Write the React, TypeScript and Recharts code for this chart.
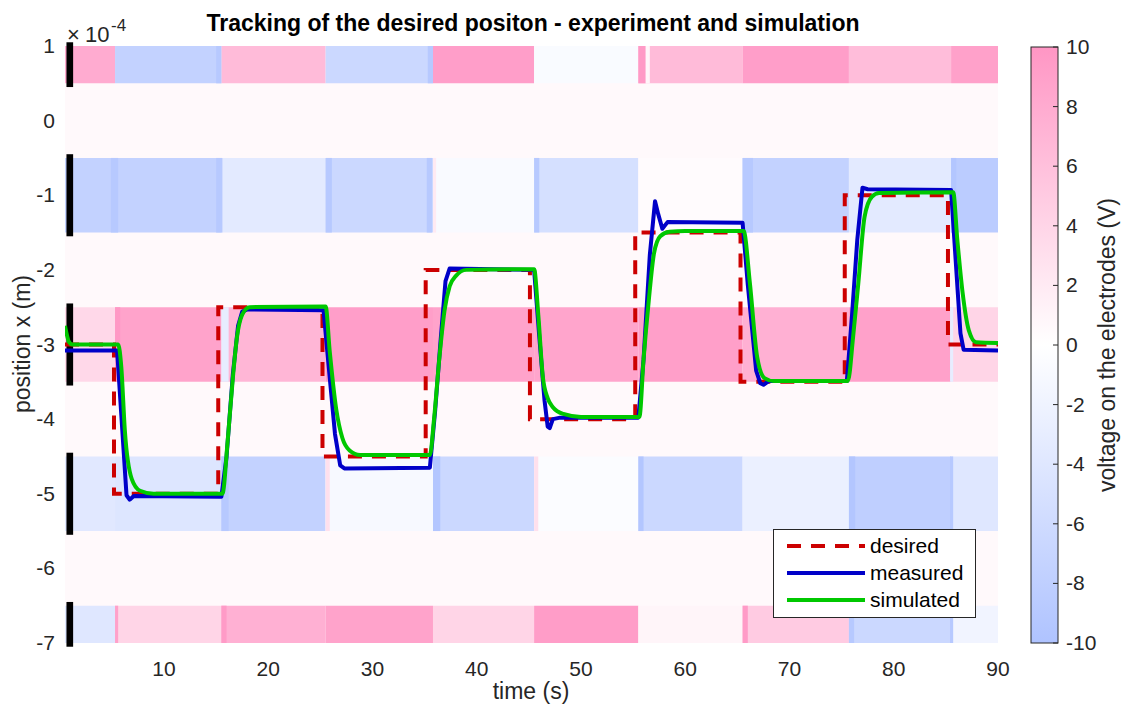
import { ComposedChart, Line, XAxis, YAxis, ReferenceArea } from "recharts"

const FONT = "'Liberation Sans', Arial, Helvetica, sans-serif"
const TEXT = "#262626"

// time edges of the voltage segments (s)
const timeEdges = [0.5, 5.3, 15.5, 25.5, 35.8, 45.5, 55.5, 65.5, 75.7, 85.5, 90]

// electrode rows (x 1e-4 m) and voltage per time segment (V)
const electrodeRows = [1, -1, -3, -5, -7]
const voltsRow1 = [8, -7.5, 6.5, -6.5, 9.2, -0.7, 6.5, 9.2, 6.3, 9]
const voltsRowM1 = [-7.5, -7.5, -3.5, -6.5, -0.8, -5.2, 0.4, -7.5, -3.5, -8.5]
const voltsRowM3 = [3.7, 8.8, 7, 9.2, 8.8, 8.6, 9.1, 7.5, 9, 4]
const voltsRowM5 = [-3.8, -4.2, -7.5, -1, -6.5, -0.5, -6.5, -2.5, -8, -4]
const voltsRowM7 = [-4, 4, 7.5, 8.8, 4, 9.3, 1, 5, -6.5, -1.8]
const rowVolts = [voltsRow1, voltsRowM1, voltsRowM3, voltsRowM5, voltsRowM7]
const gapVoltage = 0.6

// short switching spikes: [row index, t start, t end, voltage]
const spikes: [number, number, number, number][] = [
    [0, 15.0, 15.5, -9], [0, 35.3, 35.8, -9], [0, 55.5, 56.2, 9.6], [0, 56.2, 56.6, 1],
    [1, 4.9, 5.6, -9], [1, 15.0, 15.6, -9], [1, 25.5, 26.1, -9], [1, 35.2, 35.7, -9],
    [1, 35.8, 36.1, 2], [1, 45.5, 46.0, -9], [1, 65.5, 66.5, -9], [1, 85.5, 86.0, -9.5],
    [2, 5.3, 5.8, 9.8], [2, 15.5, 16.2, -3], [2, 85.4, 85.7, -3],
    [3, 15.5, 16.2, -9], [3, 25.5, 25.9, 3], [3, 35.8, 36.5, -9.5], [3, 45.5, 45.9, 3],
    [3, 55.5, 56.0, -9.5], [3, 75.7, 76.3, -9.5], [3, 85.4, 85.7, -9],
    [4, 5.3, 5.6, 9], [4, 15.5, 16.0, 9.5], [4, 65.5, 66.0, 9.5], [4, 75.7, 76.2, -9], [4, 85.4, 85.7, -9],
]

const desired = [
    { t: 0.5, v: -3 }, { t: 5.2, v: -3 }, { t: 5.2, v: -5 }, { t: 15.2, v: -5 }, { t: 15.2, v: -2.5 },
    { t: 25.2, v: -2.5 }, { t: 25.2, v: -4.5 }, { t: 35.1, v: -4.5 }, { t: 35.1, v: -2 }, { t: 45.1, v: -2 },
    { t: 45.1, v: -4 }, { t: 55.2, v: -4 }, { t: 55.2, v: -1.5 }, { t: 65.3, v: -1.5 }, { t: 65.3, v: -3.5 },
    { t: 75.3, v: -3.5 }, { t: 75.3, v: -1 }, { t: 85.2, v: -1 }, { t: 85.2, v: -3 }, { t: 90, v: -3 },
]

const measured = [
    { t: 0.5, v: -3.08 }, { t: 5.5, v: -3.08 }, { t: 6.4, v: -5.02 }, { t: 6.7, v: -5.08 }, { t: 7.1, v: -5.03 },
    { t: 15.5, v: -5.04 }, { t: 16.0, v: -4.5 }, { t: 16.6, v: -3.4 }, { t: 17.1, v: -2.75 }, { t: 17.5, v: -2.56 },
    { t: 18, v: -2.53 }, { t: 25.3, v: -2.54 }, { t: 25.6, v: -3.0 }, { t: 26.4, v: -4.2 }, { t: 26.9, v: -4.62 },
    { t: 27.3, v: -4.66 }, { t: 35.5, v: -4.65 }, { t: 36.0, v: -3.9 }, { t: 36.5, v: -3.0 }, { t: 37.0, v: -2.15 },
    { t: 37.4, v: -1.98 }, { t: 45.5, v: -2.0 }, { t: 46.0, v: -2.9 }, { t: 46.5, v: -3.75 }, { t: 46.8, v: -4.1 },
    { t: 47.0, v: -4.12 }, { t: 47.3, v: -4.0 }, { t: 48, v: -3.98 }, { t: 55.5, v: -3.98 }, { t: 56.0, v: -3.2 },
    { t: 56.6, v: -1.8 }, { t: 57.1, v: -1.08 }, { t: 57.4, v: -1.25 }, { t: 57.8, v: -1.45 }, { t: 58.3, v: -1.36 },
    { t: 65.5, v: -1.37 }, { t: 66.0, v: -2.2 }, { t: 66.8, v: -3.35 }, { t: 67.2, v: -3.52 }, { t: 67.5, v: -3.54 },
    { t: 68, v: -3.49 }, { t: 75.5, v: -3.49 }, { t: 76.0, v: -2.6 }, { t: 76.5, v: -1.6 }, { t: 77, v: -0.9 },
    { t: 77.5, v: -0.92 }, { t: 85.5, v: -0.93 }, { t: 86.0, v: -2.0 }, { t: 86.4, v: -2.85 }, { t: 86.7, v: -3.07 },
    { t: 90, v: -3.08 },
]

const simulated = [
    { t: 0.5, v: -2.75 }, { t: 0.9, v: -2.97 }, { t: 1.2, v: -3.0 }, { t: 5.6, v: -3.0 }, { t: 5.9, v: -3.3 },
    { t: 6.24, v: -4.15 }, { t: 6.9, v: -4.8 }, { t: 7.7, v: -4.96 }, { t: 9, v: -5.0 }, { t: 15.6, v: -5.0 },
    { t: 16.1, v: -4.3 }, { t: 16.6, v: -3.45 }, { t: 17.0, v: -2.9 }, { t: 17.5, v: -2.6 }, { t: 18.2, v: -2.5 },
    { t: 25.5, v: -2.49 }, { t: 25.9, v: -3.1 }, { t: 26.5, v: -3.85 }, { t: 27.1, v: -4.25 }, { t: 27.8, v: -4.42 },
    { t: 28.8, v: -4.48 }, { t: 35.5, v: -4.48 }, { t: 35.9, v: -4.0 }, { t: 36.4, v: -3.2 }, { t: 36.9, v: -2.55 },
    { t: 37.4, v: -2.22 }, { t: 38, v: -2.08 }, { t: 39, v: -2.0 }, { t: 45.5, v: -1.99 }, { t: 45.9, v: -2.6 },
    { t: 46.35, v: -3.45 }, { t: 46.8, v: -3.72 }, { t: 47.3, v: -3.84 }, { t: 48.3, v: -3.93 }, { t: 50, v: -3.97 },
    { t: 55.6, v: -3.97 }, { t: 56.0, v: -3.2 }, { t: 56.5, v: -2.41 }, { t: 57.0, v: -1.78 }, { t: 57.6, v: -1.55 },
    { t: 58.5, v: -1.49 }, { t: 60, v: -1.48 }, { t: 65.6, v: -1.48 }, { t: 66.2, v: -2.18 }, { t: 66.9, v: -3.17 },
    { t: 67.6, v: -3.45 }, { t: 68.5, v: -3.49 }, { t: 75.6, v: -3.49 }, { t: 76.1, v: -2.9 }, { t: 76.6, v: -2.18 },
    { t: 77.2, v: -1.29 }, { t: 77.9, v: -1.02 }, { t: 78.6, v: -0.97 }, { t: 85.7, v: -0.96 }, { t: 86.1, v: -1.6 },
    { t: 86.6, v: -2.3 }, { t: 87.2, v: -2.81 }, { t: 87.9, v: -2.97 }, { t: 90, v: -2.98 },
]

const xTicks = [10, 20, 30, 40, 50, 60, 70, 80, 90]
const yTicks = [-7, -6, -5, -4, -3, -2, -1, 0, 1]
const colorbarTicks = [10, 8, 6, 4, 2, 0, -2, -4, -6, -8, -10]

const legendItems = [
    { name: "desired", color: "#CC0000", dash: "14 10" },
    { name: "measured", color: "#0000C8", dash: undefined },
    { name: "simulated", color: "#00C800", dash: undefined },
]

const PINK = [255, 150, 196]
const BLUE = [175, 195, 255]

function voltColor(v: number) {
    const f = Math.min(1, Math.abs(v) / 10)
    const c = v >= 0 ? PINK : BLUE
    const ch = c.map((k) => Math.round(255 + (k - 255) * f))
    return `rgb(${ch[0]},${ch[1]},${ch[2]})`
}

function rowRange(center: number) {
    return [Math.max(-7, center - 0.5), Math.min(1, center + 0.5)]
}

const XTick = (props: any) => (
    <text x={props.x} y={676} textAnchor="middle" fontSize={21} fill={TEXT} fontFamily={FONT}>
        {props.payload.value}
    </text>
)

const YTick = (props: any) => (
    <text x={55} y={props.y + 7} textAnchor="end" fontSize={21} fill={TEXT} fontFamily={FONT}>
        {props.payload.value}
    </text>
)

// colorbar geometry
const CB_X = 1031
const CB_W = 27
const CB_TOP = 47
const CB_BOTTOM = 643
const cbY = (v: number) => CB_TOP + ((10 - v) / 20) * (CB_BOTTOM - CB_TOP)

export default function App() {
    const heat: any[] = []
    heat.push(
        <ReferenceArea key="gap" x1={0.5} x2={90} y1={-7} y2={1} fill={voltColor(gapVoltage)} fillOpacity={1} stroke="none" />
    )
    electrodeRows.forEach((row, ri) => {
        const [y1, y2] = rowRange(row)
        rowVolts[ri].forEach((v, si) => {
            heat.push(
                <ReferenceArea key={`h-${ri}-${si}`} x1={timeEdges[si]} x2={timeEdges[si + 1]} y1={y1} y2={y2}
                    fill={voltColor(v)} fillOpacity={1} stroke="none" />
            )
        })
    })
    spikes.forEach(([ri, t1, t2, v], i) => {
        const [y1, y2] = rowRange(electrodeRows[ri])
        heat.push(
            <ReferenceArea key={`s-${i}`} x1={t1} x2={t2} y1={y1} y2={y2} fill={voltColor(v)} fillOpacity={1} stroke="none" />
        )
    })
    electrodeRows.forEach((row, ri) => {
        const [y1, y2] = rowRange(row)
        heat.push(
            <ReferenceArea key={`b-${ri}`} x1={0.64} x2={1.28} y1={y1 - 0.05} y2={y2 + 0.05} ifOverflow="visible"
                fill="#000" fillOpacity={1} stroke="none" />
        )
    })

    return (
        <div style={{ position: "absolute", left: 0, top: 0, width: 1123, height: 706, background: "#fff", fontFamily: FONT }}>
            <ComposedChart width={1123} height={706} margin={{ top: 46, right: 125, bottom: 0, left: 8 }}>
                <XAxis type="number" dataKey="t" domain={[0.5, 90]} ticks={xTicks} interval={0} allowDataOverflow
                    axisLine={false} tickLine={false} height={63} tick={XTick} />
                <YAxis type="number" domain={[-7, 1]} ticks={yTicks} interval={0} allowDataOverflow
                    axisLine={false} tickLine={false} width={57} tick={YTick} />
                {heat}
                <Line data={desired} dataKey="v" type="linear" stroke="#CC0000" strokeWidth={4} strokeDasharray="14 10"
                    dot={false} isAnimationActive={false} />
                <Line data={measured} dataKey="v" type="linear" stroke="#0000C8" strokeWidth={4} strokeLinejoin="round"
                    dot={false} isAnimationActive={false} />
                <Line data={simulated} dataKey="v" type="monotone" stroke="#00C800" strokeWidth={4} strokeLinejoin="round"
                    dot={false} isAnimationActive={false} />
            </ComposedChart>
            <svg width={1123} height={706} style={{ position: "absolute", left: 0, top: 0, pointerEvents: "none" }}>
                <defs>
                    <linearGradient id="cb" x1="0" y1="0" x2="0" y2="1">
                        <stop offset="0" stopColor={voltColor(10)} />
                        <stop offset="0.5" stopColor={voltColor(0)} />
                        <stop offset="1" stopColor={voltColor(-10)} />
                    </linearGradient>
                </defs>
                <text x={533} y={31} textAnchor="middle" fontSize={23} fontWeight="bold" fill="#000" fontFamily={FONT}>
                    Tracking of the desired positon - experiment and simulation
                </text>
                <text x={67} y={42} fontSize={22} fill={TEXT} fontFamily={FONT}>×</text>
                <text x={85} y={42} fontSize={22} fill={TEXT} fontFamily={FONT}>10</text>
                <text x={111} y={31} fontSize={17} fill={TEXT} fontFamily={FONT}>-4</text>
                <text x={531} y={699} textAnchor="middle" fontSize={23} fill={TEXT} fontFamily={FONT}>time (s)</text>
                <text x={29.5} y={344} textAnchor="middle" fontSize={23} fill={TEXT} fontFamily={FONT}
                    transform="rotate(-90 29.5 344)">position x (m)</text>

                <rect x={CB_X} y={CB_TOP} width={CB_W} height={CB_BOTTOM - CB_TOP} fill="url(#cb)" stroke={TEXT} strokeWidth={1} />
                {colorbarTicks.map((v) => (
                    <g key={v}>
                        <line x1={CB_X + CB_W - 5} x2={CB_X + CB_W} y1={cbY(v)} y2={cbY(v)} stroke={TEXT} strokeWidth={1} />
                        <text x={CB_X + CB_W + 8} y={cbY(v) + 7} fontSize={21} fill={TEXT} fontFamily={FONT}>{v}</text>
                    </g>
                ))}
                <text x={1115} y={345} textAnchor="middle" fontSize={23} fill={TEXT} fontFamily={FONT}
                    transform="rotate(-90 1115 345)">voltage on the electrodes (V)</text>

                <rect x={773.5} y={529.5} width={202} height={88} fill="#fff" stroke={TEXT} strokeWidth={1} />
                {legendItems.map((it, i) => {
                    const y = 546 + i * 27
                    return (
                        <g key={it.name}>
                            <line x1={787} x2={865} y1={y} y2={y} stroke={it.color} strokeWidth={4} strokeDasharray={it.dash} />
                            <text x={870} y={y + 7} fontSize={21} fill="#000" fontFamily={FONT}>{it.name}</text>
                        </g>
                    )
                })}
            </svg>
        </div>
    )
}
